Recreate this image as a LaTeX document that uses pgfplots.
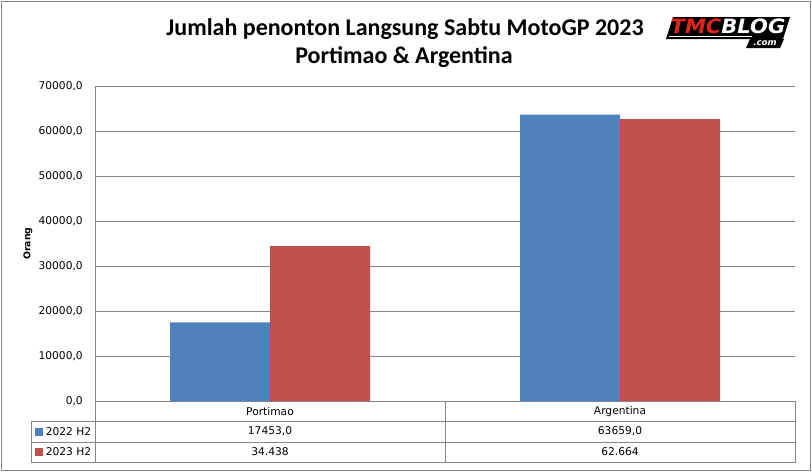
\documentclass[border=0pt]{standalone}
\usepackage{fontspec}
\setmainfont{DejaVu Sans}
\newfontfamily\titlefont{Carlito}
\usepackage{graphicx}
\usepackage{pgfplots}
\pgfplotsset{compat=1.18}
\definecolor{blueS}{HTML}{4F81BD}
\definecolor{redS}{HTML}{C0504D}
\definecolor{gridc}{HTML}{868686}
\definecolor{logored}{HTML}{E2231A}
\begin{document}
\begin{tikzpicture}
\begin{scope}[x=0.75pt,y=-0.75pt]
\useasboundingbox (0,0) rectangle (812,472);
\end{scope}
\begin{axis}[
  at={(71.25pt,-300.75pt)}, anchor=south west,
  scale only axis, width=525pt, height=236.25pt,
  xmin=0, xmax=2, ymin=0, ymax=70000,
  ytick distance=10000, xtick=\empty,
  scaled y ticks=false,
  ymajorgrids, grid style={gridc, line width=0.75pt},
  axis x line*=bottom, axis y line*=left,
  axis line style={gridc, line width=0.75pt, -},
  major tick length=0pt,
  yticklabel style={/pgf/number format/fixed, /pgf/number format/fixed zerofill,
    /pgf/number format/precision=1, /pgf/number format/use comma,
    /pgf/number format/1000 sep={}, /pgf/number format/assume math mode=true,
    font=\fontsize{8}{9}\selectfont, anchor=east, inner sep=0pt, xshift=-9pt},
  ylabel={Orang},
  ylabel style={at={(axis description cs:-0.0957,0.5)}, anchor=center, font=\bfseries\fontsize{7}{8}\selectfont},
  ybar=0pt, bar width=75pt,
]
\addplot[fill=blueS, draw=none] coordinates {(0.5,17453) (1.5,63659)};
\addplot[fill=redS, draw=none] coordinates {(0.5,34438) (1.5,62664)};
\end{axis}
\begin{scope}[x=0.75pt,y=-0.75pt]
% outer frame
\draw[gridc, line width=0.75pt] (1,1.5) rectangle (810.5,470.5);
% title
\node[font=\titlefont\bfseries\fontsize{18}{21}\selectfont] at (405,29) {Jumlah penonton Langsung Sabtu MotoGP 2023};
\node[font=\titlefont\bfseries\fontsize{18}{21}\selectfont] at (404,57) {Portimao \& Argentina};
% logo
\fill[black] (673,17) -- (790,17) -- (783,39) -- (666,39) -- cycle;
\fill[black] (750,39) -- (784,39) -- (780,48) -- (746,48) -- cycle;
\draw[white, line width=0.8pt] (669,36.5) -- (752,36.5);
\node[inner sep=0pt] at (728,26.5) {\resizebox{86pt}{11pt}{\bfseries\itshape\color{logored}TMC\color{white}BLOG}};
\node[white, inner sep=0pt, font=\bfseries\itshape\fontsize{6.5}{6.5}\selectfont] at (765,43) {.com};
% data table
\draw[gridc, line width=0.75pt] (95,401) -- (95,462.5);
\draw[gridc, line width=0.75pt] (445,401) -- (445,462.5);
\draw[gridc, line width=0.75pt] (795,401) -- (795,462.5);
\draw[gridc, line width=0.75pt] (31,421.5) -- (31,462.5);
\draw[gridc, line width=0.75pt] (31,421.5) -- (795,421.5);
\draw[gridc, line width=0.75pt] (31,442) -- (795,442);
\draw[gridc, line width=0.75pt] (31,462.5) -- (795,462.5);
\begin{scope}[every node/.style={font=\fontsize{8}{9}\selectfont, inner sep=0pt}]
\node at (270,411.5) {Portimao};
\node at (620,411.5) {Argentina};
\fill[blueS] (35,427.5) rectangle (43,435.5);
\node[anchor=west] at (45.5,431.5) {2022 H2};
\node at (270,431.5) {17453,0};
\node at (620,431.5) {63659,0};
\fill[redS] (35,448) rectangle (43,456);
\node[anchor=west] at (45.5,452) {2023 H2};
\node at (270,452) {34.438};
\node at (620,452) {62.664};
\end{scope}
\end{scope}
\end{tikzpicture}
\end{document}
